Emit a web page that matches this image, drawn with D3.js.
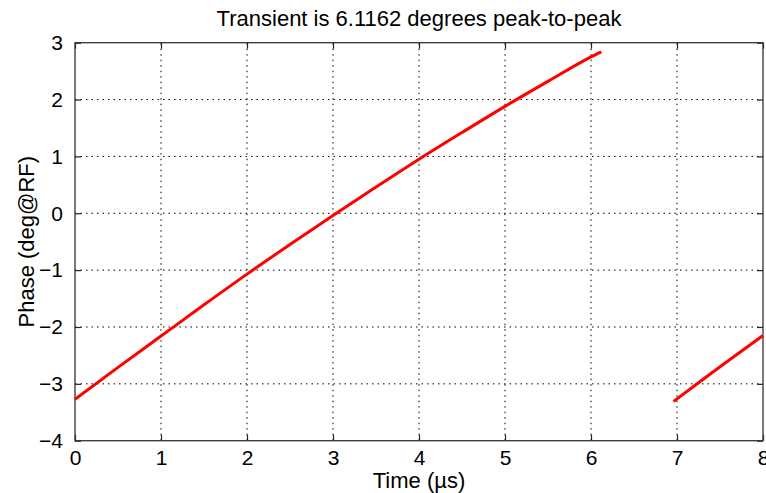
<!DOCTYPE html>
<html><head><meta charset="utf-8">
<script src="https://cdn.jsdelivr.net/npm/d3@7"></script>
<style>body{margin:0;background:#fff;} text{font-family:"Liberation Sans",Arial,sans-serif;fill:#000;}</style>
</head><body>
<svg id="c" width="766" height="493"></svg>
<script>
const titleText = "Transient is 6.1162 degrees peak-to-peak";
const xLabel = "Time (\u00b5s)";
const yLabel = "Phase (deg@RF)";
const xTicks = [0,1,2,3,4,5,6,7,8];
const yTicks = [-4,-3,-2,-1,0,1,2,3];
const seg1T = [0,0.5,1,1.5,2,2.5,3,3.5,4,4.5,5,5.5,6,6.12];
const seg1V = [-3.27,-2.71,-2.16,-1.61,-1.07,-0.55,-0.04,0.46,0.95,1.42,1.88,2.32,2.75,2.84];
const seg2T = [6.96,7.25,7.5,8];
const seg2V = [-3.31,-2.98,-2.70,-2.15];

const svg = d3.select("#c");
const m = {l:75, r:3, t:42.7, b:52.3};
const W = 766, H = 493;
const x = d3.scaleLinear().domain([0,8]).range([m.l, W-m.r]);
const y = d3.scaleLinear().domain([-4,3]).range([H-m.b, m.t]);

const g = svg.append("g");
// grid
g.selectAll(".gx").data(xTicks.slice(1,-1)).enter().append("line")
 .attr("x1",d=>x(d)).attr("x2",d=>x(d)).attr("y1",y(-4)).attr("y2",y(3))
 .attr("stroke","#000").attr("stroke-width",1).attr("stroke-dasharray","1.5,4");
g.selectAll(".gy").data(yTicks.slice(1,-1)).enter().append("line")
 .attr("y1",d=>y(d)).attr("y2",d=>y(d)).attr("x1",x(0)).attr("x2",x(8))
 .attr("stroke","#000").attr("stroke-width",1).attr("stroke-dasharray","1.5,4");

// axes with inward ticks
const tl = 6;
const ax = d3.axisBottom(x).tickValues(xTicks).tickSize(-tl).tickPadding(tl+3).tickFormat(d3.format("d"));
const ay = d3.axisLeft(y).tickValues(yTicks).tickSize(-tl).tickPadding(tl+6).tickFormat(d=>d<0?"\u2212"+Math.abs(d):d);
const axT = d3.axisTop(x).tickValues(xTicks).tickSize(-tl).tickFormat("");
const ayR = d3.axisRight(y).tickValues(yTicks).tickSize(-tl).tickFormat("");
function style(sel){ sel.select(".domain").remove(); sel.selectAll(".tick line").attr("stroke","#222").attr("stroke-width",1.2); sel.selectAll("text").attr("font-size",21).attr("fill","#000").attr("font-family","Liberation Sans, Arial, sans-serif"); }
g.append("g").attr("transform",`translate(0,${y(-4)})`).call(ax).call(style);
g.append("g").attr("transform",`translate(${x(0)},0)`).call(ay).call(style);
g.append("g").attr("transform",`translate(0,${y(3)})`).call(axT).call(style);
g.append("g").attr("transform",`translate(${x(8)},0)`).call(ayR).call(style);
// frame
g.append("rect").attr("x",x(0)).attr("y",y(3)).attr("width",x(8)-x(0)).attr("height",y(-4)-y(3))
 .attr("fill","none").attr("stroke","#333").attr("stroke-width",1.3);

// data lines
const line = d3.line().x(d=>x(d[0])).y(d=>y(d[1])).curve(d3.curveMonotoneX);
[[seg1T,seg1V],[seg2T,seg2V]].forEach(([t,v])=>{
  g.append("path").datum(t.map((d,i)=>[d,v[i]])).attr("d",line)
   .attr("fill","none").attr("stroke","#ff0000").attr("stroke-width",3);
});

// labels
svg.append("text").attr("x",(x(0)+x(8))/2).attr("y",26).attr("text-anchor","middle").attr("font-size",22).text(titleText);
svg.append("text").attr("x",(x(0)+x(8))/2).attr("y",488).attr("text-anchor","middle").attr("font-size",22).text(xLabel);
svg.append("text").attr("transform",`translate(34,${(y(-4)+y(3))/2}) rotate(-90)`).attr("text-anchor","middle").attr("font-size",22).text(yLabel);
</script>
</body></html>
